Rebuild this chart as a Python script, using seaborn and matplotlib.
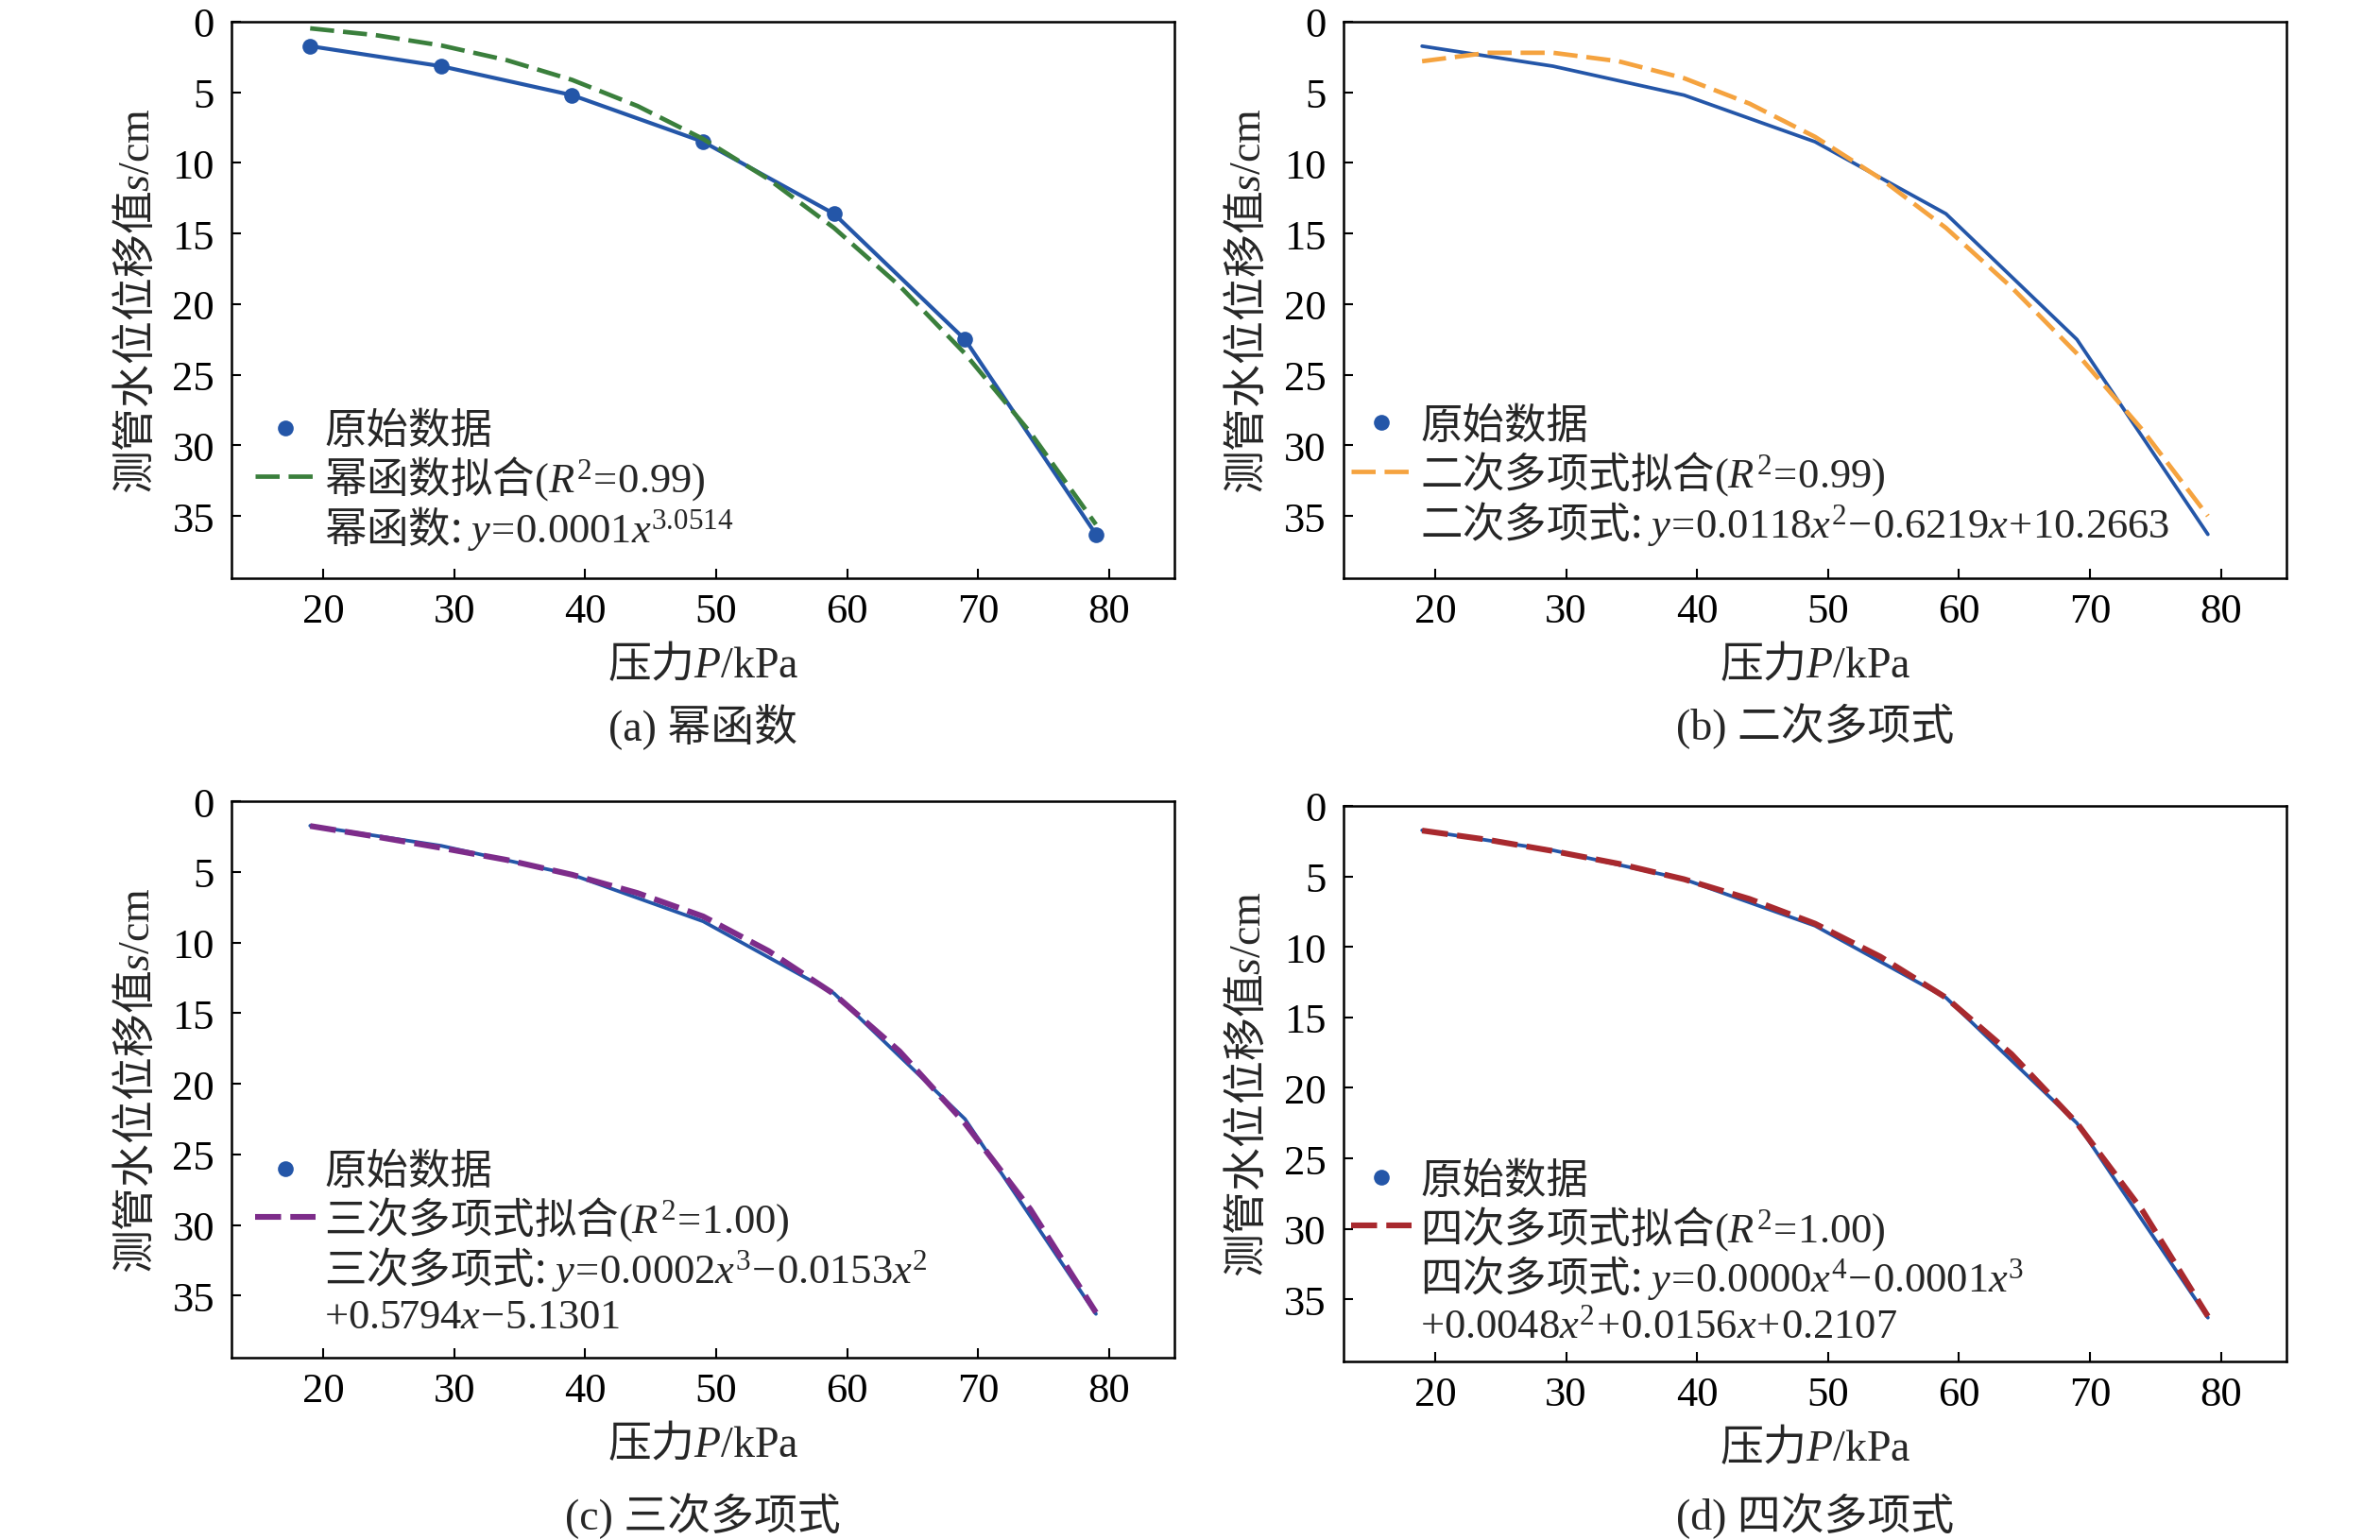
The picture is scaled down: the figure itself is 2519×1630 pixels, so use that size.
import matplotlib
matplotlib.use("Agg")
import matplotlib.pyplot as plt
from matplotlib.lines import Line2D
import seaborn as sns

# measured data (pressure in kPa, displacement in cm)
pressure = [19, 29, 39, 49, 59, 69, 79]
displacement = [1.73, 3.15, 5.2, 8.5, 13.6, 22.5, 36.3]

# fitted curves
fit_x = [19, 24, 29, 34, 39, 44, 49, 54, 59, 64, 69, 74, 79]
power_fit = [0.47, 0.95, 1.68, 2.72, 4.12, 5.97, 8.3, 11.15, 14.6, 18.7, 23.5, 29.1, 35.6]
quad_fit = [2.8, 2.2, 2.2, 2.8, 4.0, 5.8, 8.15, 11.1, 14.6, 18.8, 23.5, 28.9, 35.0]
cubic_fit = [1.75, 2.5, 3.3, 4.15, 5.2, 6.5, 8.15, 10.6, 13.65, 17.7, 22.8, 28.9, 36.2]
quartic_fit = [1.75, 2.4, 3.2, 4.1, 5.2, 6.6, 8.35, 10.7, 13.6, 17.6, 22.5, 28.7, 36.2]

x_ticks = [20, 30, 40, 50, 60, 70, 80]
y_ticks = [0, 5, 10, 15, 20, 25, 30, 35]

sns.set_style("ticks")
plt.rcParams["font.family"] = ["Liberation Serif", "Noto Sans CJK SC"]
plt.rcParams["mathtext.fontset"] = "custom"
plt.rcParams["mathtext.rm"] = "Liberation Serif"
plt.rcParams["mathtext.it"] = "Liberation Serif:italic"

CJK = "Noto Sans CJK SC"
FS_TICK = 32
FS = 33
FS_LEG = 32
BLUE = "#2456a8"

panels = [
    dict(pos=[0.0973, 0.6242, 0.3962, 0.3611], fit=power_fit, color="#3a7f3c", lw=3.4,
         dash=(5.4, 2.0), markers=True, leg_x=0.025, leg_y=0.305, cap_y=0.5285,
         labels=["原始数据", r"幂函数拟合$(R^2\!=\!0.99)$",
                 r"幂函数: $y\!=\!0.0001x^{3.0514}$"],
         caption="(a) 幂函数"),
    dict(pos=[0.5645, 0.6242, 0.3962, 0.3611], fit=quad_fit, color="#f5a33f", lw=3.4,
         dash=(5.4, 2.0), markers=False, leg_x=0.008, leg_y=0.314, cap_y=0.5285,
         labels=["原始数据", r"二次多项式拟合$(R^2\!=\!0.99)$",
                 r"二次多项式: $y\!=\!0.0118x^2\!-\!0.6219x\!+\!10.2663$"],
         caption="(b) 二次多项式"),
    dict(pos=[0.0973, 0.1183, 0.3962, 0.3611], fit=cubic_fit, color="#7d2c8a", lw=4.4,
         dash=(4.5, 1.6), markers=False, leg_x=0.025, leg_y=0.375, cap_y=0.016,
         labels=["原始数据", r"三次多项式拟合$(R^2\!=\!1.00)$",
                 r"三次多项式: $y\!=\!0.0002x^3\!-\!0.0153x^2$",
                 r"${+}0.5794x\!-\!5.1301$"],
         caption="(c) 三次多项式"),
    dict(pos=[0.5645, 0.1159, 0.3962, 0.3605], fit=quartic_fit, color="#a8292e", lw=4.4,
         dash=(4.5, 1.6), markers=False, leg_x=0.008, leg_y=0.366, cap_y=0.016,
         labels=["原始数据", r"四次多项式拟合$(R^2\!=\!1.00)$",
                 r"四次多项式: $y\!=\!0.0000x^4\!-\!0.0001x^3$",
                 r"${+}0.0048x^2\!+\!0.0156x\!+\!0.2107$"],
         caption="(d) 四次多项式"),
]

fig = plt.figure(figsize=(25.19, 16.31), dpi=100)

for p in panels:
    ax = fig.add_axes(p["pos"])
    if p["markers"]:
        sns.lineplot(x=pressure, y=displacement, ax=ax, color=BLUE, lw=3.0, sort=False,
                     marker="o", markersize=12, markeredgewidth=0)
    else:
        sns.lineplot(x=pressure, y=displacement, ax=ax, color=BLUE, lw=2.7, sort=False)
    sns.lineplot(x=fit_x, y=p["fit"], ax=ax, color=p["color"], lw=p["lw"], sort=False,
                 linestyle=(0, p["dash"]))

    ax.set_xlim(13, 85)
    ax.set_ylim(39.4, 0)
    ax.set_xticks(x_ticks)
    ax.set_yticks(y_ticks)
    ax.tick_params(direction="in", length=7, width=1.5, labelsize=FS_TICK, colors="black")
    ax.tick_params(axis="x", pad=11)
    ax.tick_params(axis="y", pad=13)
    for s in ax.spines.values():
        s.set_visible(True)
        s.set_linewidth(1.8)
        s.set_color("black")

    ax.set_xlabel(r"压力$P/\mathrm{kPa}$", family=CJK, fontsize=FS, labelpad=8)
    ax.set_ylabel(r"测管水位位移值$s/\mathrm{cm}$", family=CJK, fontsize=FS, labelpad=10)

    handles = [
        Line2D([], [], marker="o", ls="none", color=BLUE, markersize=12, markeredgewidth=0),
        Line2D([], [], color=p["color"], lw=p["lw"], linestyle=(0, p["dash"])),
    ]
    handles += [Line2D([], [], ls="none") for _ in p["labels"][2:]]
    ax.legend(handles, p["labels"], loc="upper left", bbox_to_anchor=(p["leg_x"], p["leg_y"]),
              frameon=False, prop={"family": CJK, "size": FS_LEG}, handlelength=1.45,
              handletextpad=0.2, labelspacing=0.04, borderpad=0, borderaxespad=0)

    x0, _, w, _ = p["pos"]
    fig.text(x0 + w / 2, p["cap_y"], p["caption"], ha="center", va="center", fontsize=FS)

fig.savefig("out.png", dpi=100)
